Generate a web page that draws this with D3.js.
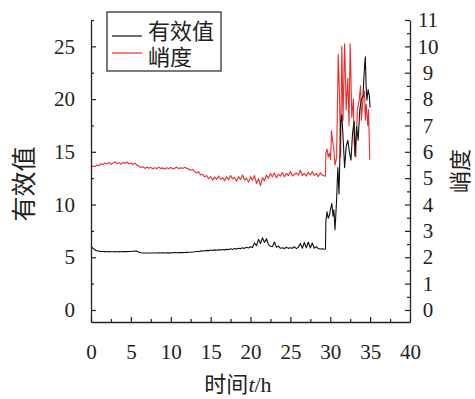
<!DOCTYPE html>
<html>
<head>
<meta charset="utf-8">
<script src="https://cdn.jsdelivr.net/npm/d3@7"></script>
<style>
  body { margin: 0; background: #fff; }
  svg { display: block; }
</style>
</head>
<body>
<figure id="chart" style="margin:0"></figure>
<script>
// sample step of the steady part, hours
const stepHours = 0.25;

// RMS (有效值), 0 .. 29.25 h
const rmsSteady = [
  6.05, 5.85, 5.70, 5.62,  5.58, 5.55, 5.54, 5.53,  5.52, 5.53, 5.52, 5.52,
  5.53, 5.52, 5.53, 5.52,  5.53, 5.54, 5.53, 5.55,  5.55, 5.57, 5.58, 5.60,
  5.48, 5.42, 5.40, 5.40,  5.40, 5.41, 5.40, 5.41,  5.40, 5.41, 5.42, 5.41,
  5.42, 5.41, 5.42, 5.43,  5.42, 5.43, 5.44, 5.43,  5.44, 5.45, 5.44, 5.45,
  5.46, 5.47, 5.48, 5.50,  5.52, 5.55, 5.54, 5.58,  5.62, 5.60, 5.65, 5.63,
  5.68, 5.64, 5.70, 5.66,  5.72, 5.68, 5.74, 5.70,  5.76, 5.72, 5.80, 5.74,
  5.82, 5.78, 5.86, 5.80,  5.90, 5.84, 5.95, 5.88,  6.00, 5.92, 6.35, 6.10,
  6.70, 6.30, 6.85, 6.40,  6.75, 6.20, 6.05, 6.00,  6.45, 5.95, 6.05, 5.85,
  5.90, 5.82, 5.95, 5.84,  5.90, 5.86, 6.00, 5.82,  5.95, 6.30, 5.85, 6.40,
  5.90, 6.45, 5.88, 6.35,  5.85, 6.00, 5.82, 5.78,  5.80, 5.76
];

// kurtosis (峭度), 0 .. 29.25 h
const kurtSteady = [
  5.40, 5.46, 5.44, 5.50,  5.47, 5.55, 5.52, 5.58,  5.54, 5.60, 5.52, 5.57,
  5.62, 5.55, 5.59, 5.53,  5.60, 5.56, 5.62, 5.54,  5.58, 5.52, 5.57, 5.50,
  5.46, 5.40, 5.44, 5.37,  5.42, 5.38, 5.41, 5.35,  5.40, 5.36, 5.42, 5.37,
  5.39, 5.34, 5.40, 5.36,  5.41, 5.35, 5.38, 5.42,  5.36, 5.40, 5.37, 5.41,
  5.38, 5.35, 5.30, 5.33,  5.25, 5.20, 5.24, 5.12,  5.15, 5.05, 5.10, 4.98,
  5.06, 4.92, 5.04, 4.95,  5.08, 4.96, 5.02, 4.90,  5.05, 4.94, 5.10, 4.97,
  5.03, 4.88, 5.06, 4.95,  5.12, 4.93, 5.00, 4.85,  5.05, 4.92, 5.10, 4.80,
  4.98, 4.72, 5.02, 4.90,  5.12, 5.00, 5.18, 5.05,  5.20, 5.02, 5.15, 5.08,
  5.22, 5.05, 5.18, 5.10,  5.25, 5.08, 5.14, 5.20,  5.12, 5.30, 5.10, 5.18,
  5.08, 5.22, 5.12, 5.25,  5.10, 5.18, 5.06, 5.20,  5.12, 5.08
];

// failure stage, irregular samples
const rmsTailHours = [29.4, 29.45, 29.6, 29.75, 29.9, 30.05, 30.2, 30.35, 30.45, 30.6, 30.8, 30.95,
  31.1, 31.3, 31.45, 31.6, 31.8, 32.0, 32.2, 32.4, 32.6, 32.8, 33.0, 33.1, 33.3, 33.5, 33.7,
  33.9, 34.1, 34.3, 34.4, 34.5, 34.6, 34.75, 34.9, 35.0];
const rmsTail = [5.78, 8.4, 9.3, 8.7, 9.0, 9.6, 10.1, 8.9, 9.5, 7.6, 10.5, 13.5,
  11.0, 17.7, 18.5, 16.5, 13.5, 15.5, 16.1, 15.0, 14.2, 16.8, 17.9, 14.6, 17.4, 16.1, 19.0,
  19.9, 20.3, 23.1, 24.0, 21.2, 19.9, 20.9, 20.3, 19.2];

const kurtTailHours = [29.4, 29.45, 29.6, 29.75, 29.9, 30.05, 30.15, 30.3, 30.45, 30.6, 30.8, 31.0,
  31.15, 31.3, 31.45, 31.6, 31.8, 32.0, 32.2, 32.35, 32.5, 32.7, 32.9, 33.0, 33.2, 33.4, 33.6,
  33.8, 33.9, 34.1, 34.3, 34.4, 34.5, 34.7, 34.8, 34.95];
const kurtTail = [5.08, 5.95, 6.1, 5.8, 5.95, 5.7, 6.8, 6.4, 6.1, 5.5, 5.8, 9.7,
  8.2, 5.8, 10.0, 7.2, 10.1, 7.6, 8.8, 7.0, 10.1, 7.3, 8.0, 6.3, 5.8, 7.6, 7.9,
  8.5, 7.2, 8.0, 8.3, 7.2, 7.8, 7.0, 7.6, 5.7];

const xTicks = [0, 5, 10, 15, 20, 25, 30, 35, 40];
const xMinor = [2.5, 7.5, 12.5, 17.5, 22.5, 27.5, 32.5, 37.5];
const yLeftTicks = [0, 5, 10, 15, 20, 25];
const yLeftMinor = [2.5, 7.5, 12.5, 17.5, 22.5, 27.5];
const yRightTicks = [0, 1, 2, 3, 4, 5, 6, 7, 8, 9, 10, 11];
const yRightMinor = [0.5, 1.5, 2.5, 3.5, 4.5, 5.5, 6.5, 7.5, 8.5, 9.5, 10.5];

const seriesNames = ["有效值", "峭度"];
const seriesColors = ["#111", "#ee2a2a"];

const serif = "'Liberation Serif', 'Times New Roman', Times, serif";
const cjk = "'Noto Sans CJK SC', sans-serif";

const width = 475, height = 399;
const plotLeft = 91, plotRight = 410, plotTop = 20, plotBottom = 322;

const svg = d3.select("figure#chart")
  .append("svg")
  .attr("width", width)
  .attr("height", height);

const x = d3.scaleLinear().domain([0, 40]).range([plotLeft, plotRight]);
const yL = d3.scaleLinear().domain([-1.14, 27.5]).range([plotBottom, plotTop]);
const yR = d3.scaleLinear().domain([-0.456, 11]).range([plotBottom, plotTop]);

const rmsData = rmsSteady.map((v, i) => [i * stepHours, v])
  .concat(rmsTailHours.map((t, i) => [t, rmsTail[i]]));
const kurtData = kurtSteady.map((v, i) => [i * stepHours, v])
  .concat(kurtTailHours.map((t, i) => [t, kurtTail[i]]));

// curves: red first, black over it
svg.append("path")
  .datum(kurtData)
  .attr("fill", "none")
  .attr("stroke", seriesColors[1])
  .attr("stroke-width", 1.1)
  .attr("stroke-linejoin", "round")
  .attr("d", d3.line().x(d => x(d[0])).y(d => yR(d[1])));

svg.append("path")
  .datum(rmsData)
  .attr("fill", "none")
  .attr("stroke", seriesColors[0])
  .attr("stroke-width", 1.1)
  .attr("stroke-linejoin", "round")
  .attr("d", d3.line().x(d => x(d[0])).y(d => yL(d[1])));

function styleAxis(g) {
  g.attr("font-family", serif).attr("font-size", 21);
  g.select(".domain").attr("stroke", "#222").attr("stroke-width", 1.3);
  g.selectAll(".tick line").attr("stroke", "#222").attr("stroke-width", 1.2);
  g.selectAll("text").attr("fill", "#222").style("font-family", serif);
}

// bottom axis
svg.append("g")
  .attr("transform", "translate(0," + plotBottom + ")")
  .call(d3.axisBottom(x).tickValues(xTicks).tickSize(-5).tickSizeOuter(0).tickPadding(22))
  .call(styleAxis);
svg.append("g")
  .attr("transform", "translate(0," + plotBottom + ")")
  .call(d3.axisBottom(x).tickValues(xMinor).tickSize(-3).tickFormat(""))
  .call(g => g.select(".domain").remove())
  .call(styleAxis);

// left axis
svg.append("g")
  .attr("transform", "translate(" + plotLeft + ",0)")
  .call(d3.axisLeft(yL).tickValues(yLeftTicks).tickSize(-5).tickSizeOuter(0).tickPadding(16))
  .call(styleAxis);
svg.append("g")
  .attr("transform", "translate(" + plotLeft + ",0)")
  .call(d3.axisLeft(yL).tickValues(yLeftMinor).tickSize(-3).tickFormat(""))
  .call(g => g.select(".domain").remove())
  .call(styleAxis);

// right axis
svg.append("g")
  .attr("transform", "translate(" + plotRight + ",0)")
  .call(d3.axisRight(yR).tickValues(yRightTicks).tickSize(-5).tickSizeOuter(0).tickPadding(18))
  .call(styleAxis)
  .call(g => g.selectAll("text").attr("text-anchor", "middle"));
svg.append("g")
  .attr("transform", "translate(" + plotRight + ",0)")
  .call(d3.axisRight(yR).tickValues(yRightMinor).tickSize(-3).tickFormat(""))
  .call(g => g.select(".domain").remove())
  .call(styleAxis);

// axis titles
const xTitle = svg.append("text")
  .attr("x", 238)
  .attr("y", 392)
  .attr("text-anchor", "middle")
  .attr("fill", "#222")
  .attr("font-size", 22);
xTitle.append("tspan").attr("font-family", cjk).text("时间");
xTitle.append("tspan").attr("font-family", serif).attr("font-style", "italic").text("t");
xTitle.append("tspan").attr("font-family", serif).text("/h");

svg.append("text")
  .attr("font-family", cjk)
  .attr("fill", "#222")
  .attr("transform", "translate(33,184) rotate(-90)")
  .attr("text-anchor", "middle")
  .attr("font-size", 25)
  .text(seriesNames[0]);

svg.append("text")
  .attr("font-family", cjk)
  .attr("fill", "#222")
  .attr("transform", "translate(468,171) rotate(-90)")
  .attr("text-anchor", "middle")
  .attr("font-size", 22)
  .text(seriesNames[1]);

// legend
const legend = svg.append("g");
legend.append("rect")
  .attr("x", 107).attr("y", 12)
  .attr("width", 114).attr("height", 59)
  .attr("fill", "#fff")
  .attr("stroke", "#222")
  .attr("stroke-width", 1.2);
seriesNames.forEach((name, i) => {
  legend.append("line")
    .attr("x1", 112).attr("x2", 142)
    .attr("y1", 36 + i * 17).attr("y2", 36 + i * 17)
    .attr("stroke", seriesColors[i])
    .attr("stroke-width", 1.2);
  legend.append("text")
    .attr("font-family", cjk)
    .attr("fill", "#222")
    .attr("x", 148)
    .attr("y", 39 + i * 26)
    .attr("font-size", 22)
    .text(name);
});
</script>
</body>
</html>
